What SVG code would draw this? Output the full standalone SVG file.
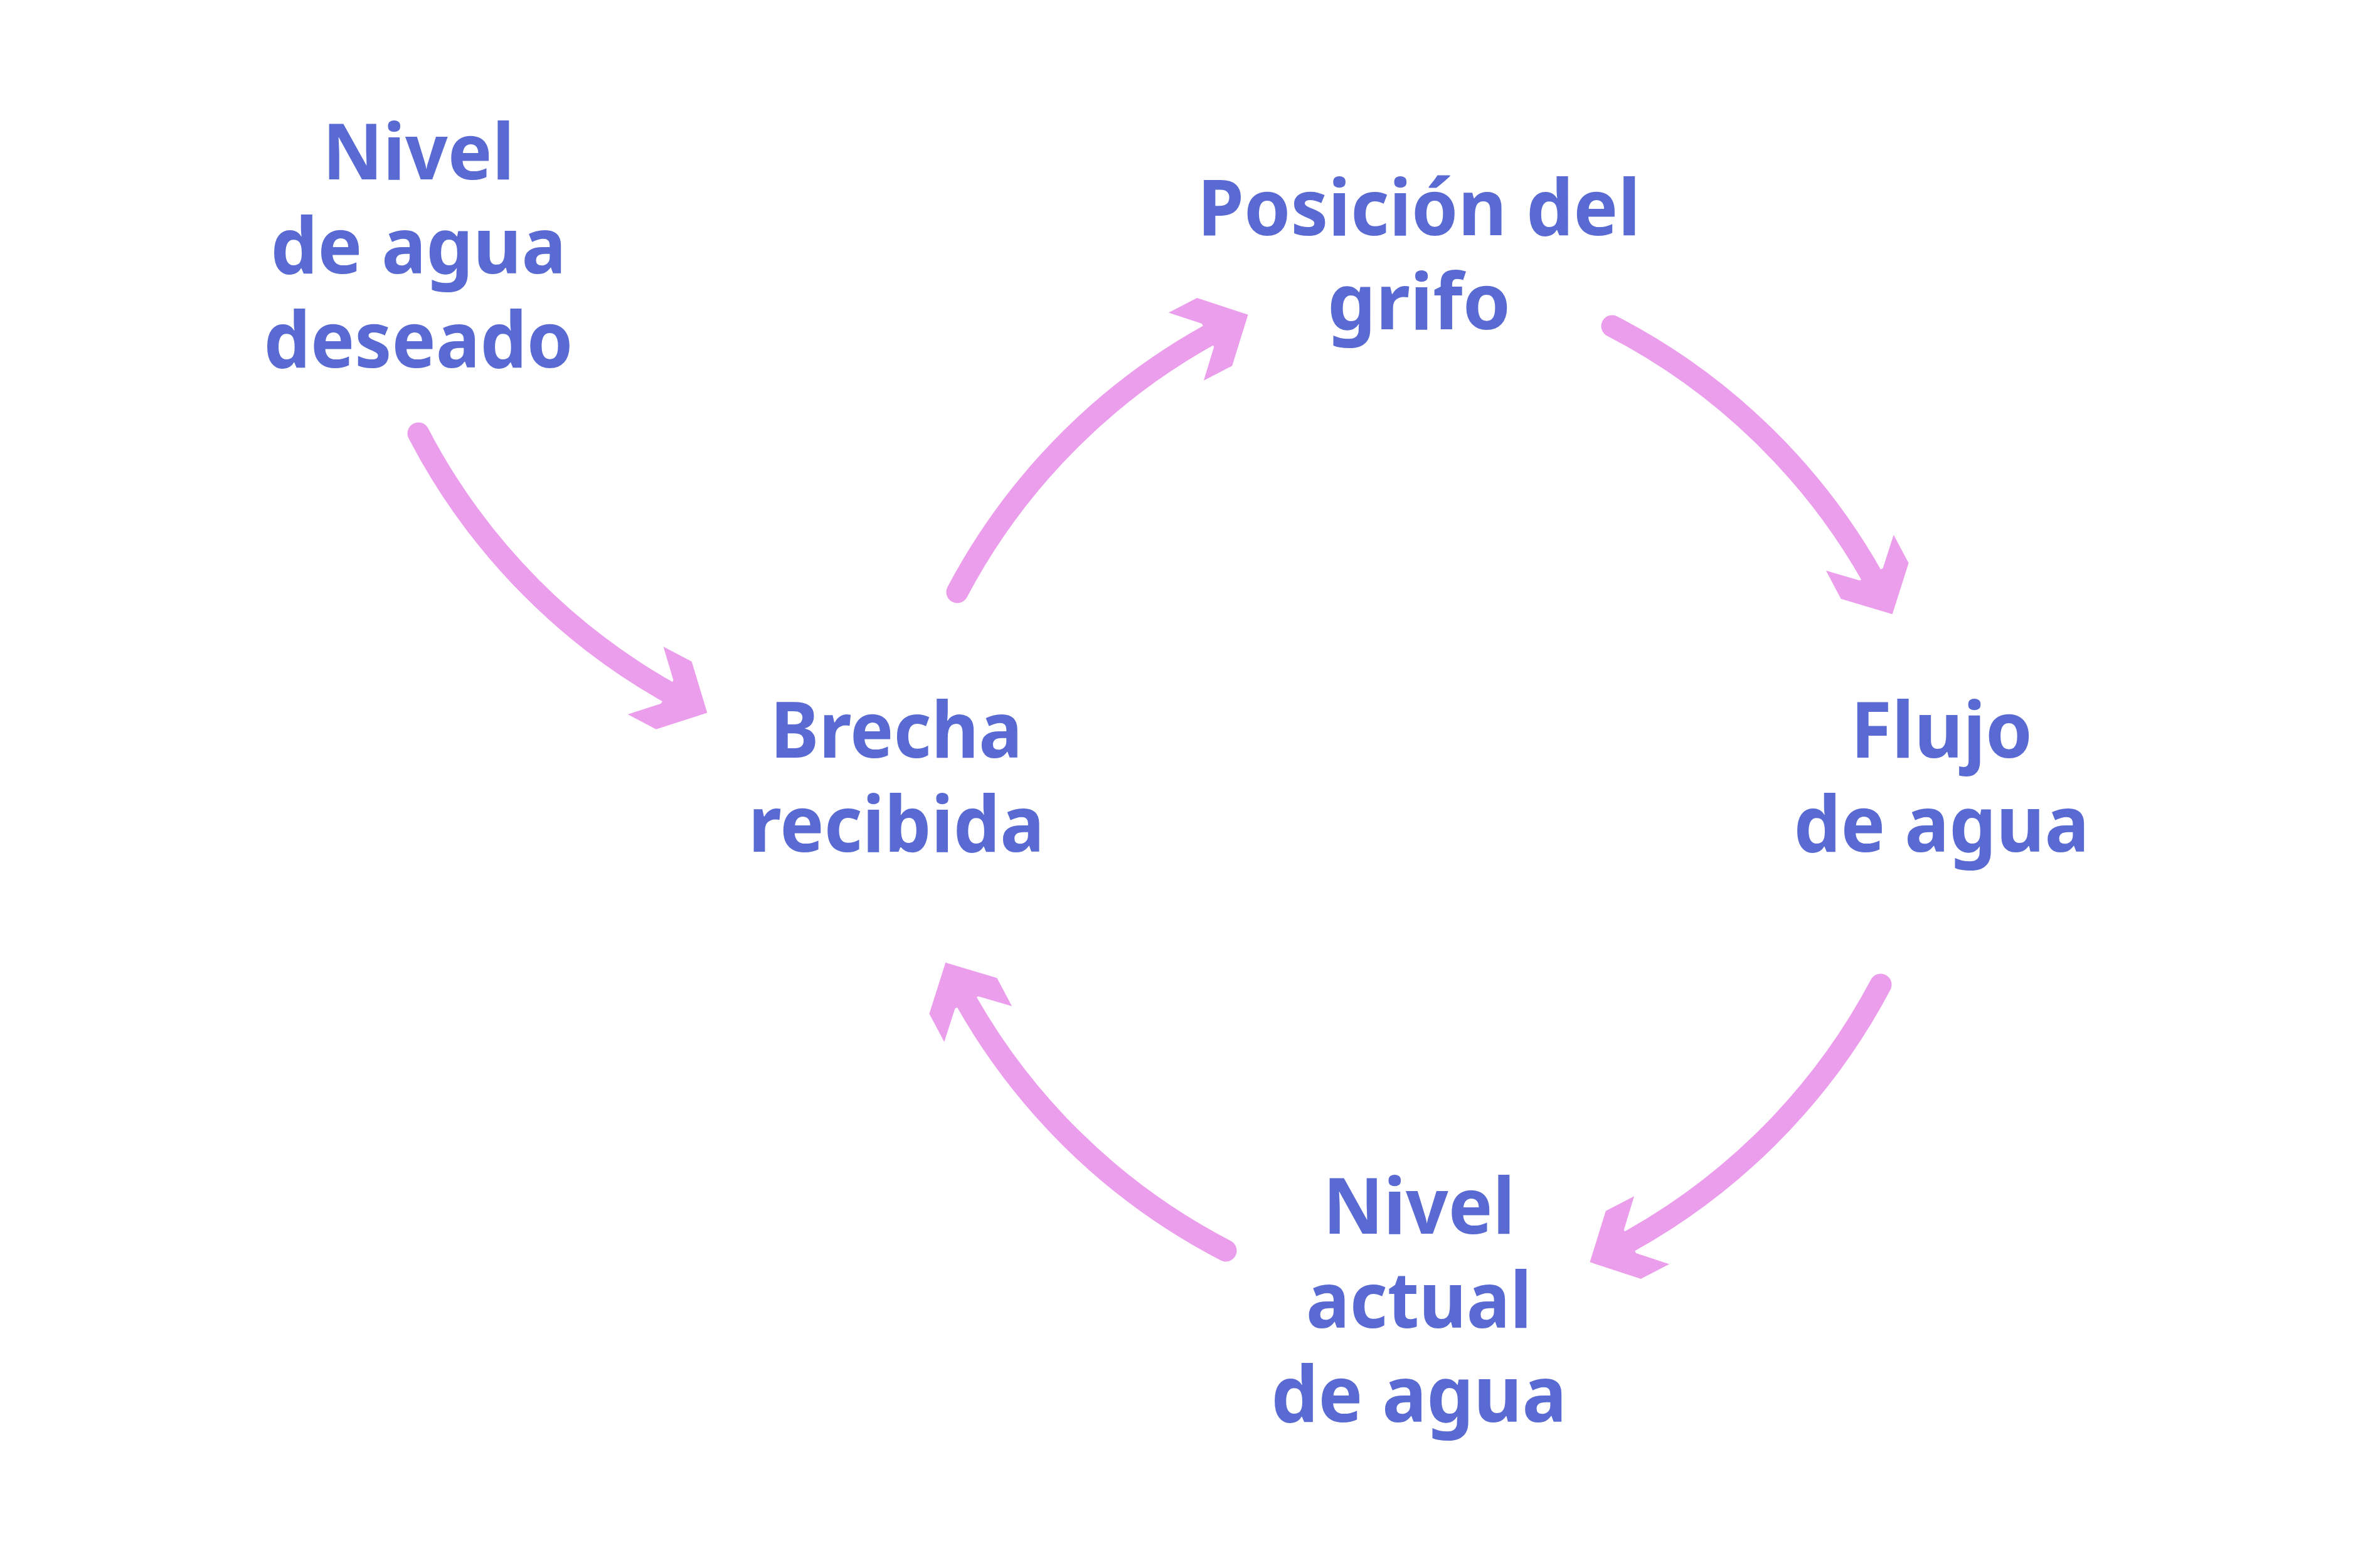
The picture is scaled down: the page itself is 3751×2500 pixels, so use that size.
<svg xmlns="http://www.w3.org/2000/svg" width="3751" height="2500" viewBox="0 0 3751 2500">
<style>
.lbl{font-family:"Noto Sans","Open Sans","Liberation Sans",sans-serif;font-weight:700;font-size:123px;fill:#5A6AD3;text-anchor:middle}
.arr{fill:none;stroke:#EB9EEB;stroke-width:35;stroke-linecap:round;marker-end:url(#head)}
</style>
<defs>
<marker id="head" markerUnits="userSpaceOnUse" orient="auto" refX="0" refY="0" markerWidth="1" markerHeight="1" style="overflow:visible">
<path d="M40,0 L-20,-61 L-71,-61 L-32,-21 L-32,21 L-71,61 L-20,61 Z" fill="#EB9EEB"/>
</marker>
</defs>
<rect width="3751" height="2500" fill="#ffffff"/>
<g id="connectors">
<path class="arr" d="M667,691 A1007,1007 0 0 0 1092,1118"/>
<path class="arr" d="M2570,520 A1007,1007 0 0 1 2998,944"/>
<path class="arr" d="M2998,1570 A1007,1007 0 0 1 2570,1994"/>
<path class="arr" d="M1954,1994 A1007,1007 0 0 1 1526,1570"/>
<path class="arr" d="M1526,944 A1007,1007 0 0 1 1954,520"/>
</g>
<g id="node-nivel-deseado">
<text class="lbl" x="667" y="286" textLength="306" lengthAdjust="spacingAndGlyphs">Nivel</text>
<text class="lbl" x="667" y="436" textLength="471" lengthAdjust="spacingAndGlyphs">de agua</text>
<text class="lbl" x="667" y="586" textLength="493" lengthAdjust="spacingAndGlyphs">deseado</text>
</g>
<g id="node-posicion-grifo">
<text class="lbl" x="2262" y="375" textLength="706" lengthAdjust="spacingAndGlyphs">Posición del</text>
<text class="lbl" x="2262" y="525" textLength="292" lengthAdjust="spacingAndGlyphs">grifo</text>
</g>
<g id="node-brecha">
<text class="lbl" x="1429" y="1208" textLength="402" lengthAdjust="spacingAndGlyphs">Brecha</text>
<text class="lbl" x="1429" y="1358" textLength="472" lengthAdjust="spacingAndGlyphs">recibida</text>
</g>
<g id="node-flujo">
<text class="lbl" x="3095" y="1208" textLength="290" lengthAdjust="spacingAndGlyphs">Flujo</text>
<text class="lbl" x="3095" y="1358" textLength="471" lengthAdjust="spacingAndGlyphs">de agua</text>
</g>
<g id="node-nivel-actual">
<text class="lbl" x="2262" y="1967" textLength="306" lengthAdjust="spacingAndGlyphs">Nivel</text>
<text class="lbl" x="2262" y="2117" textLength="360" lengthAdjust="spacingAndGlyphs">actual</text>
<text class="lbl" x="2262" y="2267" textLength="471" lengthAdjust="spacingAndGlyphs">de agua</text>
</g>
</svg>
